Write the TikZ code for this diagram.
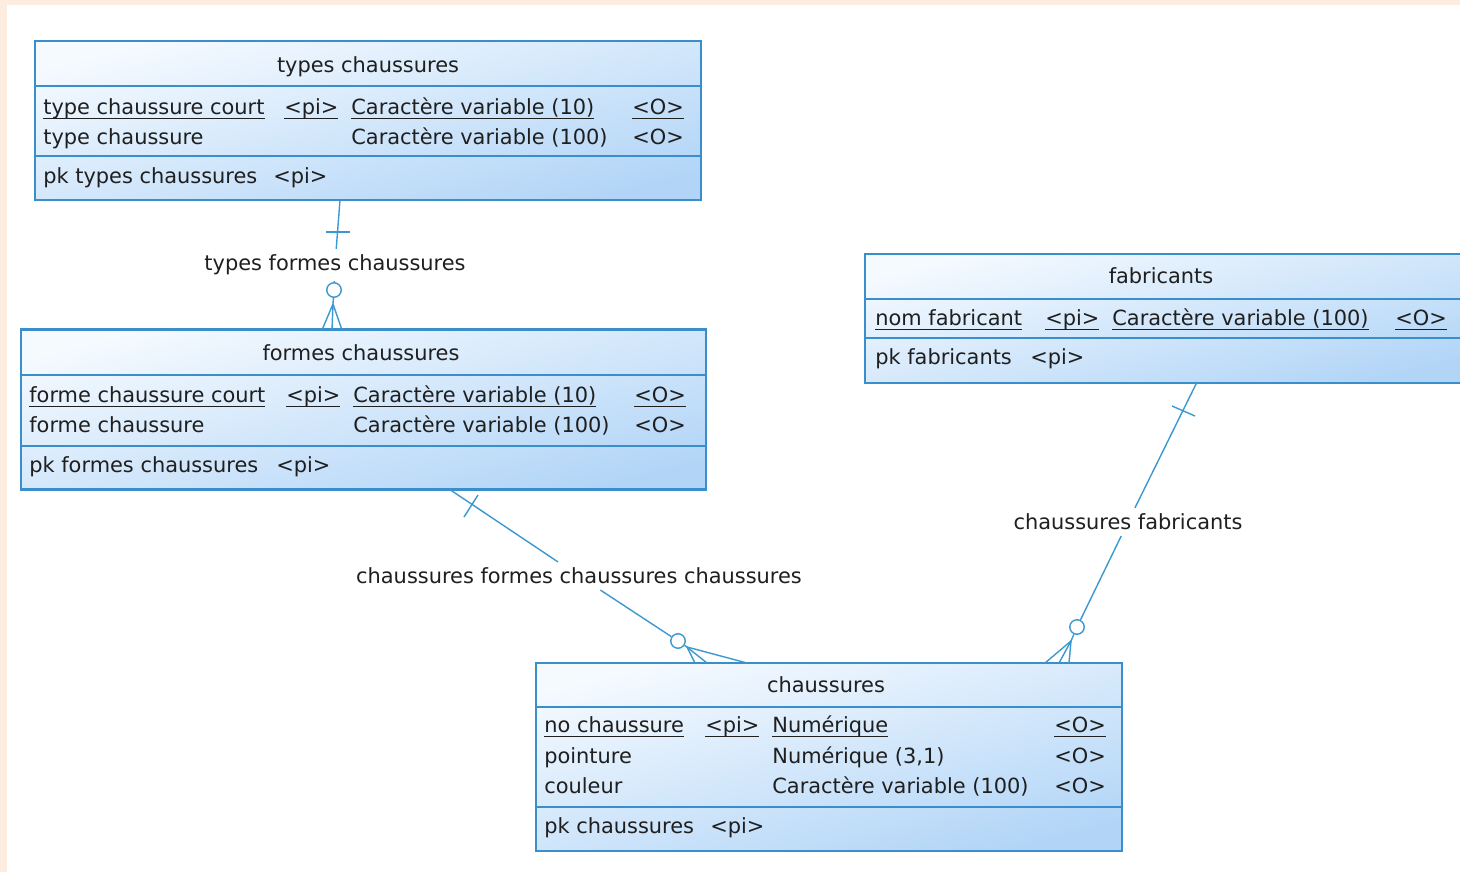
\documentclass[tikz,border=0pt]{standalone}
\usepackage{fontspec}
\setmainfont{DejaVu Sans}
\usepackage{tikz}
\definecolor{erdedge}{HTML}{3A8ECB}
\definecolor{erdtop}{HTML}{F5FAFF}
\definecolor{erdbot}{HTML}{B2D5F7}
\definecolor{erdlink}{HTML}{3C99D0}
\definecolor{pagepeach}{HTML}{FDEDE1}
\newsavebox{\pkbox}
\newcommand{\pkul}[1]{\sbox\pkbox{#1}\rlap{\rule[-2.9pt]{\wd\pkbox}{0.7pt}}\usebox\pkbox}

\begin{document}
\begin{tikzpicture}[
  x=0.02cm, y=-0.02cm,
  tbl/.style={draw=erdedge,line width=1.2pt,top color=erdtop,bottom color=erdbot,shading angle=14,inner sep=0pt},
  sep/.style={draw=erdedge,line width=1.2pt},
  fld/.style={anchor=base west,inner sep=0pt,text=black!88,font=\fontsize{11.9pt}{14pt}\selectfont},
  ttl/.style={fld,anchor=base},
  rel/.style={draw=erdlink,line width=0.8pt},
  rlbl/.style={inner sep=3.2pt,text=black!88,font=\fontsize{11.9pt}{14pt}\selectfont},
  hole/.style={circle,draw=erdlink,line width=0.8pt,fill=white,minimum size=0.29cm,inner sep=0pt}
]
\useasboundingbox (0,0) rectangle (1460,872);
\clip (0,0) rectangle (1460,872);
\fill[white] (0,0) rectangle (1460,872);
\fill[pagepeach] (0,0) rectangle (1460,5);
\fill[pagepeach] (0,0) rectangle (7,872);
%% ─── Table: types chaussures ────────────────────────────────────────────────
\begin{scope}
  \node[tbl,minimum width=13.32cm,minimum height=3.18cm] (types) at (368,120.5) {};
  \draw[sep] (35,86) -- (701,86) (35,156) -- (701,156);
  \node[ttl] (types-t) at (368,72) {types chaussures};
  \node[fld] (types-a1)  at (43,114)  {\pkul{type chaussure court}};
  \node[fld] (types-a1k) at (284,114) {\pkul{<pi>}};
  \node[fld] (types-a1d) at (351,114) {\pkul{Caractère variable (10)}};
  \node[fld] (types-a1o) at (632,114) {\pkul{<O>}};
  \node[fld] (types-a2)  at (43,144)  {type chaussure};
  \node[fld] (types-a2d) at (351,144) {Caractère variable (100)};
  \node[fld] (types-a2o) at (632,144) {<O>};
  \node[fld] (types-pk)  at (43,183)  {pk types chaussures};
  \node[fld] (types-pki) at (273,183) {<pi>};
\end{scope}
%% ─── Table: formes chaussures ───────────────────────────────────────────────
\begin{scope}
  \node[tbl,minimum width=13.7cm,minimum height=3.2cm] (formes) at (363.5,409.5) {};
  \draw[sep] (21,375) -- (706,375) (21,446) -- (706,446);
  \node[ttl] (formes-t) at (361,360) {formes chaussures};
  \node[fld] (formes-a1)  at (29,402)  {\pkul{forme chaussure court}};
  \node[fld] (formes-a1k) at (286,402) {\pkul{<pi>}};
  \node[fld] (formes-a1d) at (353,402) {\pkul{Caractère variable (10)}};
  \node[fld] (formes-a1o) at (634,402) {\pkul{<O>}};
  \node[fld] (formes-a2)  at (29,432)  {forme chaussure};
  \node[fld] (formes-a2d) at (353,432) {Caractère variable (100)};
  \node[fld] (formes-a2o) at (634,432) {<O>};
  \node[fld] (formes-pk)  at (29,472)  {pk formes chaussures};
  \node[fld] (formes-pki) at (276,472) {<pi>};
\end{scope}
%% ─── Table: fabricants ──────────────────────────────────────────────────────
\begin{scope}
  \node[tbl,minimum width=11.94cm,minimum height=2.58cm] (fabr) at (1163.5,318.5) {};
  \draw[sep] (865,299) -- (1462,299) (865,338) -- (1462,338);
  \node[ttl] (fabr-t) at (1161,283) {fabricants};
  \node[fld] (fabr-a1)  at (875,325)  {\pkul{nom fabricant}};
  \node[fld] (fabr-a1k) at (1045,325) {\pkul{<pi>}};
  \node[fld] (fabr-a1d) at (1112,325) {\pkul{Caractère variable (100)}};
  \node[fld] (fabr-a1o) at (1395,325) {\pkul{<O>}};
  \node[fld] (fabr-pk)  at (875,364)  {pk fabricants};
  \node[fld] (fabr-pki) at (1030,364) {<pi>};
\end{scope}
%% ─── Table: chaussures ──────────────────────────────────────────────────────
\begin{scope}
  \node[tbl,minimum width=11.72cm,minimum height=3.76cm] (chaus) at (829,757) {};
  \draw[sep] (536,707) -- (1122,707) (536,807) -- (1122,807);
  \node[ttl] (chaus-t) at (826,692) {chaussures};
  \node[fld] (chaus-a1)  at (544,732)  {\pkul{no chaussure}};
  \node[fld] (chaus-a1k) at (705,732)  {\pkul{<pi>}};
  \node[fld] (chaus-a1d) at (772,732)  {\pkul{Numérique}};
  \node[fld] (chaus-a1o) at (1054,732) {\pkul{<O>}};
  \node[fld] (chaus-a2)  at (544,763)  {pointure};
  \node[fld] (chaus-a2d) at (772,763)  {Numérique (3,1)};
  \node[fld] (chaus-a2o) at (1054,763) {<O>};
  \node[fld] (chaus-a3)  at (544,793)  {couleur};
  \node[fld] (chaus-a3d) at (772,793)  {Caractère variable (100)};
  \node[fld] (chaus-a3o) at (1054,793) {<O>};
  \node[fld] (chaus-pk)  at (544,833)  {pk chaussures};
  \node[fld] (chaus-pki) at (710,833)  {<pi>};
\end{scope}
%% ─── Link: types formes chaussures ──────────────────────────────────────────
\coordinate (r1a) at (340,200);
\coordinate (r1x1) at (326,232);
\coordinate (r1x2) at (350,232);
\node[rlbl] (r1) at (335,265) {types formes chaussures};
\node[hole] (r1o) at (334,290) {};
\coordinate (r1k) at (333,304);
\coordinate (r1f1) at (322,330);
\coordinate (r1f2) at (332,330);
\coordinate (r1f3) at (342,330);
\draw[rel] (r1a) -- (r1) (r1) -- (r1o) (r1o) -- (r1k);
\draw[rel] (r1x1) -- (r1x2);
\foreach \p in {r1f1,r1f2,r1f3} \draw[rel] (r1k) -- (\p);
%% ─── Link: chaussures formes chaussures chaussures ──────────────────────────
\coordinate (r2a) at (449,489);
\coordinate (r2x1) at (464,517);
\coordinate (r2x2) at (478,495);
\node[rlbl] (r2) at (579,576) {chaussures formes chaussures chaussures};
\node[hole] (r2o) at (678,641) {};
\coordinate (r2k) at (687,647);
\coordinate (r2f1) at (695,663);
\coordinate (r2f2) at (707,663);
\coordinate (r2f3) at (747,663);
\draw[rel] (r2a) -- (r2) (r2) -- (r2o) (r2o) -- (r2k);
\draw[rel] (r2x1) -- (r2x2);
\foreach \p in {r2f1,r2f2,r2f3} \draw[rel] (r2k) -- (\p);
%% ─── Link: chaussures fabricants ────────────────────────────────────────────
\coordinate (r3a) at (1197,382);
\coordinate (r3x1) at (1172,406);
\coordinate (r3x2) at (1195,416);
\node[rlbl] (r3) at (1128,522) {chaussures fabricants};
\node[hole] (r3o) at (1077,627) {};
\coordinate (r3k) at (1071,641);
\coordinate (r3f1) at (1045,663);
\coordinate (r3f2) at (1059,663);
\coordinate (r3f3) at (1069,663);
\draw[rel] (r3a) -- (r3) (r3) -- (r3o) (r3o) -- (r3k);
\draw[rel] (r3x1) -- (r3x2);
\foreach \p in {r3f1,r3f2,r3f3} \draw[rel] (r3k) -- (\p);
\end{tikzpicture}
\end{document}
